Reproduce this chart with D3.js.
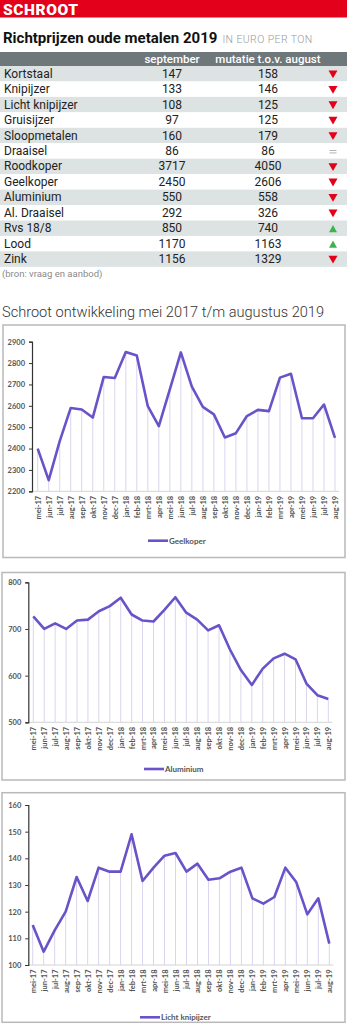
<!DOCTYPE html>
<html>
<head>
<meta charset="utf-8">
<script src="https://cdn.jsdelivr.net/npm/d3@7"></script>
<style>
  html, body { margin: 0; padding: 0; background: #fff; }
  svg { display: block; }
</style>
</head>
<body>
<svg id="page" width="347" height="1024"></svg>
<script>
// ---- price table ----
const metals = ["Kortstaal", "Knipijzer", "Licht knipijzer", "Gruisijzer", "Sloopmetalen", "Draaisel",
  "Roodkoper", "Geelkoper", "Aluminium", "Al. Draaisel", "Rvs 18/8", "Lood", "Zink"];
const priceSeptember = [147, 133, 108, 97, 160, 86, 3717, 2450, 550, 292, 850, 1170, 1156];
const priceAugust = [158, 146, 125, 125, 179, 86, 4050, 2606, 558, 326, 740, 1163, 1329];

// ---- monthly series, mei 2017 t/m augustus 2019 ----
const months = ["mei-17", "jun-17", "jul-17", "aug-17", "sep-17", "okt-17", "nov-17", "dec-17",
  "jan-18", "feb-18", "mrt-18", "apr-18", "mei-18", "jun-18", "jul-18", "aug-18", "sep-18", "okt-18",
  "nov-18", "dec-18", "jan-19", "feb-19", "mrt-19", "apr-19", "mei-19", "jun-19", "jul-19", "aug-19"];
const geelkoper = [2400, 2252, 2435, 2590, 2583, 2545, 2735, 2730, 2852, 2835, 2598, 2505, 2677, 2850,
  2690, 2595, 2560, 2452, 2472, 2552, 2581, 2575, 2732, 2750, 2542, 2542, 2606, 2450];
const aluminium = [727, 700, 712, 700, 718, 720, 738, 749, 767, 731, 718, 716, 741, 768,
  735, 720, 697, 708, 656, 612, 580, 615, 637, 647, 635, 583, 558, 550];
const lichtKnipijzer = [115, 105, 113, 120, 133, 124, 136.5, 135, 135, 149, 131.5, 136.5, 141, 142,
  135, 138, 132, 132.5, 135, 136.5, 125, 123, 125.5, 136.5, 131, 119, 125, 108];

const geelTicks = [2200, 2300, 2400, 2500, 2600, 2700, 2800, 2900];
const aluTicks = [500, 600, 700, 800];
const lichtTicks = [100, 110, 120, 130, 140, 150, 160];

const svg = d3.select("#page");
const LINE = "#6a52c9";
const BODY_FONT = "Roboto, 'Noto Sans', sans-serif";
const CHART_FONT = "Lato, 'Open Sans', sans-serif";

// ---- header ----
svg.append("rect").attr("x", 0).attr("y", 0).attr("width", 347).attr("height", 17.5).attr("fill", "#e2001a");
svg.append("text").attr("x", 3).attr("y", 14.5)
  .attr("font-family", BODY_FONT).attr("font-weight", 900).attr("font-size", 15.5)
  .attr("letter-spacing", 0.6).attr("fill", "#fff").text("SCHROOT");

const title = svg.append("text").attr("x", 3).attr("y", 42.5).attr("font-family", BODY_FONT);
title.append("tspan").attr("font-weight", 700).attr("font-size", 15).attr("fill", "#111")
  .text("Richtprijzen oude metalen 2019");
title.append("tspan").attr("dx", 5).attr("font-weight", 300).attr("font-size", 10.5).attr("fill", "#9a9a9a")
  .attr("letter-spacing", 0.4).text("IN EURO PER TON");

// ---- table ----
const rowTop = 66, rowH = 15.45;
const colSep = 172, colMut = 268, colArrow = 333;
svg.append("rect").attr("x", 0).attr("y", 52).attr("width", 347).attr("height", rowTop - 52).attr("fill", "#6e777a");
svg.append("text").attr("x", colSep).attr("y", 62.5).attr("text-anchor", "middle")
  .attr("font-family", BODY_FONT).attr("font-weight", 500).attr("font-size", 11.5).attr("fill", "#fff").text("september");
svg.append("text").attr("x", colMut).attr("y", 62.5).attr("text-anchor", "middle")
  .attr("font-family", BODY_FONT).attr("font-weight", 500).attr("font-size", 11.5).attr("fill", "#fff").text("mutatie t.o.v. august");

const rows = svg.append("g").selectAll("g").data(metals).join("g")
  .attr("transform", (d, i) => `translate(0,${rowTop + i * rowH})`);
rows.append("rect").attr("x", 0).attr("width", 347).attr("height", rowH)
  .attr("fill", (d, i) => i % 2 === 0 ? "#dde2e3" : "#ffffff");
rows.append("text").attr("x", 4).attr("y", 11.8)
  .attr("font-family", BODY_FONT).attr("font-size", 12).attr("fill", "#222").text(d => d);
rows.append("text").attr("x", colSep).attr("y", 11.8).attr("text-anchor", "middle")
  .attr("font-family", BODY_FONT).attr("font-size", 12).attr("fill", "#222").text((d, i) => priceSeptember[i]);
rows.append("text").attr("x", colMut).attr("y", 11.8).attr("text-anchor", "middle")
  .attr("font-family", BODY_FONT).attr("font-size", 12).attr("fill", "#222").text((d, i) => priceAugust[i]);

// change markers: down = red, up = green, equal = grey bars
rows.each(function (d, i) {
  const g = d3.select(this);
  const cy = rowH / 2 + 0.5;
  if (priceSeptember[i] < priceAugust[i]) {
    g.append("path").attr("d", `M${colArrow - 4.5},${cy - 3.8}L${colArrow + 4.5},${cy - 3.8}L${colArrow},${cy + 4}Z`).attr("fill", "#e2001a");
  } else if (priceSeptember[i] > priceAugust[i]) {
    g.append("path").attr("d", `M${colArrow - 4},${cy + 3.5}L${colArrow + 4},${cy + 3.5}L${colArrow},${cy - 3.8}Z`).attr("fill", "#3cb44b");
  } else {
    g.append("rect").attr("x", colArrow - 3.5).attr("y", cy - 1.5).attr("width", 7).attr("height", 0.9).attr("fill", "#aaa");
    g.append("rect").attr("x", colArrow - 3.5).attr("y", cy + 1).attr("width", 7).attr("height", 0.9).attr("fill", "#aaa");
  }
});

svg.append("text").attr("x", 2).attr("y", 276.5)
  .attr("font-family", BODY_FONT).attr("font-size", 9.5).attr("fill", "#8a8a8a").text("(bron: vraag en aanbod)");

svg.append("text").attr("x", 2).attr("y", 316.5)
  .attr("font-family", BODY_FONT).attr("font-weight", 300).attr("font-size", 14.5)
  .attr("textLength", 322).attr("lengthAdjust", "spacingAndGlyphs")
  .attr("fill", "#333").text("Schroot ontwikkeling mei 2017 t/m augustus 2019");

// ---- line charts ----
function lineChart(cfg) {
  const g = svg.append("g");
  g.append("rect").attr("x", cfg.box[0]).attr("y", cfg.box[1])
    .attr("width", cfg.box[2] - cfg.box[0]).attr("height", cfg.box[3] - cfg.box[1])
    .attr("fill", "#fff").attr("stroke", "#b9b9b9").attr("stroke-width", 1.5);

  const x = d3.scalePoint().domain(months).range(cfg.xRange);
  const y = d3.scaleLinear().domain(cfg.yDomain).range(cfg.yRange);

  // drop lines from each value down to the base
  g.append("g").selectAll("line").data(cfg.values).join("line")
    .attr("x1", (d, i) => x(months[i])).attr("x2", (d, i) => x(months[i]))
    .attr("y1", d => y(d)).attr("y2", y(cfg.yDomain[0]))
    .attr("stroke", "#d9d5ef").attr("stroke-width", 1);

  // base line
  g.append("line").attr("x1", cfg.axisX).attr("x2", cfg.xRange[1] + 4)
    .attr("y1", y(cfg.yDomain[0])).attr("y2", y(cfg.yDomain[0]))
    .attr("stroke", "#d4d4d4").attr("stroke-width", 1);

  // y axis
  const yAxis = g.append("g").attr("transform", `translate(${cfg.axisX},0)`)
    .call(d3.axisLeft(y).tickValues(cfg.ticks).tickSize(3).tickPadding(4).tickFormat(d3.format("d")));
  yAxis.select(".domain").attr("stroke", "#333").attr("stroke-width", 1.2);
  yAxis.selectAll(".tick line").attr("stroke", "#333");
  yAxis.selectAll("text").attr("font-family", CHART_FONT).attr("font-weight", 700)
    .attr("font-size", 7.5).attr("fill", "#555");

  // month labels, rotated
  const xAxis = g.append("g").attr("transform", `translate(0,${y(cfg.yDomain[0])})`)
    .call(d3.axisBottom(x).tickSize(0).tickPadding(0));
  xAxis.select(".domain").remove();
  xAxis.selectAll("text")
    .attr("font-family", CHART_FONT).attr("font-weight", 700).attr("font-size", 7.5).attr("fill", "#555")
    .attr("text-anchor", "end").attr("dy", null)
    .attr("transform", "translate(2.5,4.5) rotate(-90)")
    .attr("y", 0).attr("x", 0);

  // series line
  const line = d3.line().x((d, i) => x(months[i])).y(d => y(d));
  g.append("path").datum(cfg.values).attr("d", line)
    .attr("fill", "none").attr("stroke", LINE).attr("stroke-width", 2.6).attr("stroke-linejoin", "round");

  // legend
  g.append("line").attr("x1", cfg.legend[0]).attr("x2", cfg.legend[0] + 20)
    .attr("y1", cfg.legend[1]).attr("y2", cfg.legend[1]).attr("stroke", LINE).attr("stroke-width", 2.6);
  g.append("text").attr("x", cfg.legend[0] + 21).attr("y", cfg.legend[1] + 2.8)
    .attr("font-family", CHART_FONT).attr("font-weight", 700).attr("font-size", 8).attr("fill", "#555")
    .text(cfg.name);
}

lineChart({
  name: "Geelkoper", values: geelkoper, ticks: geelTicks,
  box: [3, 325, 345, 557.5], yDomain: [2200, 2900], yRange: [491.3, 341.7],
  xRange: [37.7, 335], axisX: 32, legend: [148, 540.7]
});
lineChart({
  name: "Aluminium", values: aluminium, ticks: aluTicks,
  box: [2, 572.5, 345, 780], yDomain: [500, 800], yRange: [722.3, 582.3],
  xRange: [33.3, 328.3], axisX: 28.3, legend: [144, 769]
});
lineChart({
  name: "Licht knipijzer", values: lichtKnipijzer, ticks: lichtTicks,
  box: [2, 792.7, 345, 1022.3], yDomain: [100, 160], yRange: [965, 805],
  xRange: [32.7, 329.3], axisX: 28.3, legend: [140, 1017.3]
});
</script>
</body>
</html>
